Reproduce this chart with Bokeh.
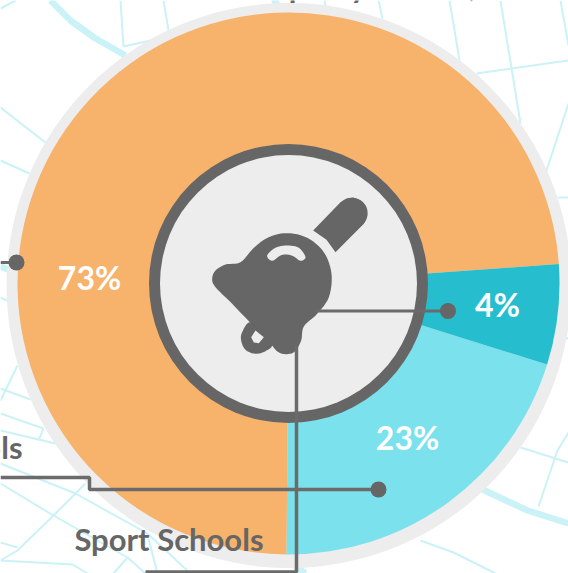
import math
from bokeh.plotting import figure
from bokeh.embed import file_html
from bokeh.resources import INLINE
from bokeh.core.properties import value

# ---- data ----
slice_names = ["Orange", "Light", "Teal"]
slice_shares = [73.75, 20.28, 5.97]          # drawn share of the circle
slice_colors = ["#F7B26B", "#7AE1ED", "#26BECE"]
slice_labels = ["73%", "23%", "4%"]
label_x = [89, 407, 497]
label_y = [277, 437, 304]
start_deg = 4.1

W, H = 568, 573
CX, CY = 288, 283
FONT = "Lato"
DARK = "#666666"
RING = "#EDEDED"
MAP = "#CBF2F6"

def Y(v):
    return [H - a for a in v]

thin_roads = [
    [(0, 8), (15, 0)], [(120, 0), (123, 46), (150, 40)], [(163, 0), (168, 30)],
    [(0, 107), (45, 142)], [(0, 160), (29, 173)],
    [(324, 0), (326, 10)], [(378, 0), (382, 18)], [(449, 0), (459, 60)], [(500, 0), (520, 123)],
    [(560, 0), (568, 45)], [(476, 73), (568, 60)], [(568, 103), (546, 170)], [(557, 197), (568, 197)],
    [(520, 447), (568, 462)], [(538, 506), (557, 450), (568, 432)],
    [(420, 540), (453, 552), (495, 573)], [(560, 336), (568, 338)],
    [(0, 388), (30, 399)], [(0, 413), (43, 428)], [(0, 430), (55, 443)], [(17, 365), (0, 400)],
    [(43, 428), (38, 440)], [(0, 463), (75, 493), (147, 533), (190, 573)],
    [(0, 483), (53, 515), (127, 557), (145, 573)],
    [(85, 483), (75, 493), (53, 515), (17, 550), (0, 560)],
    [(0, 542), (17, 547)], [(0, 560), (72, 564), (87, 573)], [(127, 557), (113, 573)],
    [(148, 538), (157, 573)], [(0, 297), (10, 302)],
]
thick_roads = [
    [(50, 0), (70, 20), (95, 38), (125, 55)],
    [(480, 488), (527, 510), (568, 523)],
    [(0, 266), (15, 272)], [(272, 3), (278, 0)], [(290, 562), (305, 573)],
]

p = figure(width=W, height=H, x_range=(0, W), y_range=(0, H), toolbar_location=None,
           output_backend="svg", min_border=0, outline_line_color=None,
           background_fill_color="white")
p.axis.visible = False
p.grid.visible = False

for r in thin_roads:
    p.line([a for a, _ in r], Y([b for _, b in r]), line_color=MAP, line_width=2)
for r in thick_roads:
    p.line([a for a, _ in r], Y([b for _, b in r]), line_color=MAP, line_width=6.5)

cy = H - CY
p.circle([288.5], [H - 285], radius=282.5, fill_color=RING, line_color=None)

ang = start_deg
for share, col in zip(slice_shares, slice_colors):
    end = ang + share * 3.6
    p.wedge([CX], [cy], radius=271, start_angle=math.radians(ang), end_angle=math.radians(end),
            fill_color=col, line_color=None)
    ang = end

p.circle([CX], [cy], radius=139.5, fill_color=DARK, line_color=None)
p.circle([CX], [cy], radius=128.5, fill_color=RING, line_color=None)

# bell icon, outline traced at 3x around (200,190)
def catmull(pts, n=6):
    out = []
    m = len(pts)
    for i in range(m):
        p0, p1, p2, p3 = pts[i - 1], pts[i], pts[(i + 1) % m], pts[(i + 2) % m]
        for k in range(n):
            t = k / n
            f = lambda a, b, c, d: 0.5 * (2 * b + (c - a) * t + (2 * a - 5 * b + 4 * c - d) * t * t + (3 * b - a - 3 * c + d) * t ** 3)
            out.append((f(p0[0], p1[0], p2[0], p3[0]), f(p0[1], p1[1], p2[1], p3[1])))
    return out

def icon(pts, col, smooth=True):
    q = catmull(pts) if smooth else pts
    p.patch([200 + a / 3 for a, _ in q], Y([190 + b / 3 for _, b in q]), fill_color=col, line_color=None)

bell = [(120, 215), (160, 172), (205, 140), (260, 128), (320, 142), (370, 185), (393, 250), (385, 320),
        (350, 370), (310, 408), (302, 450), (282, 484), (255, 491), (232, 484), (212, 462), (180, 425),
        (148, 395), (95, 340), (45, 290), (35, 265), (45, 240), (75, 222)]
icon(bell, DARK)
ring_o = [(148, 395), (125, 425), (122, 450), (135, 478), (165, 490), (195, 482), (215, 462), (190, 420)]
icon(ring_o, DARK)
ring_i = [(165, 420), (152, 440), (160, 456), (175, 458), (190, 440)]
icon(ring_i, RING, smooth=False)
shine = [(200, 195), (225, 172), (260, 165), (295, 172), (315, 200), (300, 211), (280, 198), (260, 192),
         (240, 195), (215, 211)]
icon(shine, RING)
handle = [(338, 120), (420, 35), (438, 24), (458, 21), (480, 30), (497, 50), (500, 75), (490, 100), (405, 185), (378, 148)]
icon(handle, DARK, smooth=False)
p.circle([200 + 455 / 3], [H - (190 + 68 / 3)], radius=15.5, fill_color=DARK, line_color=None)

# connectors
p.line([0, 16], Y([262, 262]), line_color="#6B6B6B", line_width=3)
p.line([315, 447], Y([310.5, 310.5]), line_color="#6B6B6B", line_width=3)
p.line([0, 89, 89, 378], Y([477, 477, 489, 489]), line_color="#6B6B6B", line_width=3.5)
p.line([296, 296, 145], Y([345, 571.5, 571.5]), line_color="#6B6B6B", line_width=3.5)
p.circle([16, 447.5, 378], Y([262, 310.5, 489]), radius=8, fill_color=DARK, line_color=None)

# percent labels
p.text(label_x, Y(label_y), text=slice_labels, text_color="white", text_font=value(FONT),
       text_font_style="bold", text_font_size="32px", text_align="center", text_baseline="middle")

# labels
p.text([263], Y([538.5]), text=["Sport Schools"], text_color=DARK, text_font=value(FONT),
       text_font_style="bold", text_font_size="31px", text_align="right", text_baseline="middle")
p.text([22], Y([446.5]), text=["ols"], text_color=DARK, text_font=value(FONT),
       text_font_style="bold", text_font_size="31px", text_align="right", text_baseline="middle")
p.text([297, 358, 472], Y([-15, -15, -15]), text=["p", "y", ","], text_color=DARK, text_font=value(FONT),
       text_font_style="bold", text_font_size="31px", text_align="center", text_baseline="middle")

open("out.html", "w").write(file_html(p, INLINE))
